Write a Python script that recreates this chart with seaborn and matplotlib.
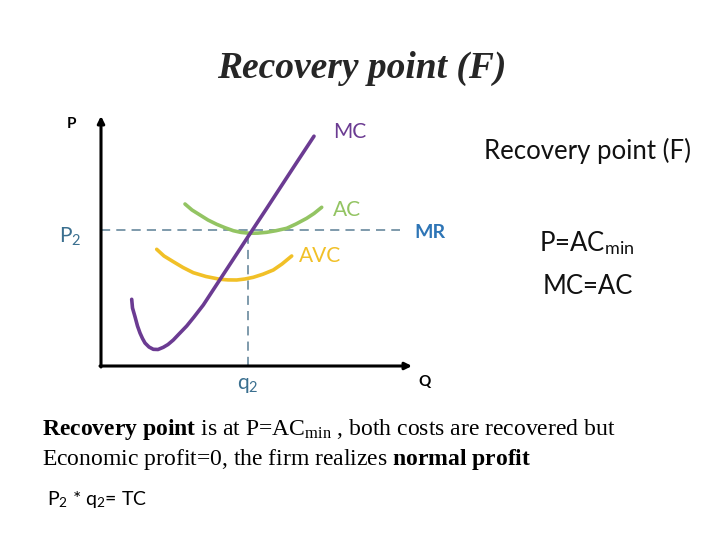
import matplotlib
matplotlib.use("Agg")
import matplotlib.pyplot as plt
import seaborn as sns

# ---- data (arbitrary units) ----
mc_q = [30.7, 31.5, 34.0, 36.5, 39.0, 41.5, 44.0, 48.0, 52.3, 57.0, 62.3, 67.0, 72.3,
        78.0, 85.7, 93.0, 102.3, 119.0, 135.7, 149.0, 165.7, 179.0, 196.0, 213.0]
mc_p = [66.7, 58.0, 49.3, 40.0, 33.0, 27.5, 23.0, 19.0, 16.7, 16.5, 18.7, 21.5, 26.0,
        32.0, 40.0, 49.0, 61.0, 86.5, 112.0, 132.3, 157.6, 178.0, 204.0, 229.8]
ac_q = [84.0, 91.0, 99.0, 107.0, 115.7, 124.0, 132.3, 140.0, 149.0, 157.0, 165.7,
        175.0, 185.7, 195.0, 205.7, 213.0, 220.7]
ac_p = [162.0, 156.0, 151.0, 146.0, 141.7, 138.3, 135.3, 133.6, 132.7, 132.9, 133.7,
        135.3, 137.7, 142.0, 147.7, 152.5, 158.7]
avc_q = [55.7, 63.0, 72.3, 82.0, 92.3, 105.0, 119.0, 127.0, 135.7, 144.0, 152.3,
         162.0, 172.3, 181.0, 190.7]
avc_p = [116.7, 110.0, 104.3, 98.5, 93.3, 89.5, 86.7, 86.1, 86.0, 87.0, 88.7,
         91.8, 96.0, 102.0, 110.0]
p2 = 135.7
q2 = 146.7
q_max = 299

sns.set_theme(style="white")
plt.rcParams['font.family'] = ['Lato', 'DejaVu Sans']
plt.rcParams['mathtext.fontset'] = 'custom'
plt.rcParams['mathtext.rm'] = 'Liberation Serif'
plt.rcParams['mathtext.bf'] = 'Liberation Serif:bold'
plt.rcParams['mathtext.it'] = 'Liberation Serif:italic'
plt.rcParams['mathtext.sf'] = 'Lato'

fig = plt.figure(figsize=(7.2, 5.4), dpi=100)
fig.patch.set_facecolor("white")
ax = fig.add_axes([101 / 720, (540 - 366) / 540, 309 / 720, 248 / 540])
ax.set_xlim(0, 309)
ax.set_ylim(0, 248)
ax.axis("off")

c_mc = "#6B3B92"
c_ac = "#93C463"
c_avc = "#F1C027"
c_dash = "#5B7E95"
c_mr = "#2E75B6"

# dashed guides
ax.plot([0, q_max], [p2, p2], ls=(0, (6, 4)), color=c_dash, lw=1.1, clip_on=False)
ax.plot([q2, q2], [0, p2], ls=(0, (6, 4)), color=c_dash, lw=1.1, clip_on=False)

sns.lineplot(x=avc_q, y=avc_p, ax=ax, color=c_avc, lw=2.6, sort=False)
sns.lineplot(x=ac_q, y=ac_p, ax=ax, color=c_ac, lw=2.6, sort=False)
sns.lineplot(x=mc_q, y=mc_p, ax=ax, color=c_mc, lw=2.6, sort=False)

# axes with arrows
ax.annotate("", xy=(0, 250), xytext=(0, -1), annotation_clip=False,
            arrowprops=dict(arrowstyle="-|>", color="black", lw=2.2,
                            mutation_scale=10, shrinkA=0, shrinkB=0))
ax.annotate("", xy=(311, 0), xytext=(-1, 0), annotation_clip=False,
            arrowprops=dict(arrowstyle="-|>", color="black", lw=2.2,
                            mutation_scale=10, shrinkA=0, shrinkB=0))

def ft(x, y, s, **kw):
    fig.text(x / 720, 1 - y / 540, s, **kw)

# title
ft(362, 68, "Recovery point (F)", ha="center", va="center", fontsize=27,
   fontweight="bold", fontstyle="italic", family="Liberation Serif")

# curve / axis labels
ft(72, 124, "P", ha="center", va="center", fontsize=11, fontweight="bold", color="black")
ft(350, 132, "MC", ha="center", va="center", fontsize=15, color=c_mc)
ft(347, 210, "AC", ha="center", va="center", fontsize=15, color=c_ac)
ft(320, 256, "AVC", ha="center", va="center", fontsize=15, color=c_avc)
ft(430, 233, "MR", ha="center", va="center", fontsize=14, fontweight="bold", color=c_mr)
ft(70, 236, "P$_\\mathsf{2}$", ha="center", va="center", fontsize=15, color="#3A6F8F")
ft(248, 385, "q$_\\mathsf{2}$", ha="center", va="center", fontsize=15, color="#3A6F8F")
ft(425, 382, "Q", ha="center", va="center", fontsize=11, fontweight="bold", color="black")

# right side notes
ft(587, 151, "Recovery point (F)", ha="center", va="center", fontsize=18.5, color="#111111")
ft(587, 243, "P=AC$_\\mathsf{min}$", ha="center", va="center", fontsize=18.5, color="#111111")
ft(588, 287, "MC=AC", ha="center", va="center", fontsize=18.5, color="#111111")

# bottom explanation
ft(42, 430, "$\\mathbf{Recovery\\ point}$ is at P=AC$_{\\mathrm{min}}$ , both costs are recovered but",
   ha="left", va="center", fontsize=17, family="Liberation Serif", color="black")
ft(42, 459, "Economic profit=0, the firm realizes $\\mathbf{normal\\ profit}$",
   ha="left", va="center", fontsize=17, family="Liberation Serif", color="black")
ft(47, 500, "P$_\\mathsf{2}$ * q$_\\mathsf{2}$= TC", ha="left", va="center", fontsize=14, color="black")

fig.savefig("out.png", dpi=100, facecolor="white")
